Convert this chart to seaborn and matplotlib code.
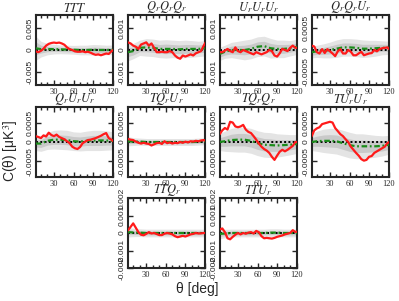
import numpy as np
import pandas as pd
import matplotlib
matplotlib.use("Agg")
import matplotlib.pyplot as plt
import seaborn as sns
from matplotlib.ticker import MultipleLocator, FixedLocator

# angular grid of the data points (deg)
theta = [2, 6, 10, 14, 18, 22, 26, 30, 34, 38, 42, 46, 50, 54, 58, 62,
         66, 70, 74, 78, 82, 86, 90, 94, 98, 102, 106, 110, 114, 118, 121]
# coarser grid for the simulation mean and its 1/2 sigma bands
theta_sim = [2, 10, 20, 30, 40, 50, 60, 70, 80, 90, 100, 110, 121]

# all values in units of 1e-4 uK^3
# --- TTT
red_ttt = [-3, -5, -2, 3, 10, 14, 16, 17, 16, 17, 15, 12, 6, 2, 0, -3, -4, -4, -3, -5,
           -4, -6, -9, -11, -10, -12, -10, -8, -9, -3, 0]
sim_ttt = [4, 2, 2, 2, 1.5, 1, 0.5, 0, 0, 0.5, 0, 0, 0.5]
s2_ttt = [28, 18, 13, 11, 10, 10, 10, 11, 11, 12, 12, 11, 11]
s1_ttt = [15, 9, 6, 5, 5, 5, 5, 5, 5, 6, 6, 5, 5]
# --- QrQrQr
red_qqq = [3.5, 3, 2, 1.5, 0.5, 2.5, 3, 3.5, 2, 3, 1, -1, -1, -0.8, -1, -1, -0.5, -1,
           -2.5, -3.5, -4, -2.5, -3, -2.5, -2, -2.5, -1.5, -1, -0.5, 2, 3.5]
sim_qqq = [-1, -0.5, 1, 1.2, 1, 0.5, 0.5, 0.5, 0.3, 0.5, 0.5, 0.5, 0.8]
s2_qqq = [4, 3.5, 3.5, 4, 4, 4, 4.2, 4, 4, 4, 3.8, 3.5, 3.5]
s1_qqq = [2, 1.8, 1.8, 2, 2, 2, 2.2, 2, 2, 2, 2, 1.8, 1.8]
# --- UrUrUr
red_uuu = [-1, -1, -0.3, 0.5, -0.5, -1, 1.2, -0.5, -1, 0, -0.5, -1, -1.5, -2, -1,
           -1.5, -2, -1.5, -1, 0, -0.5, -2.5, -3, -1.5, 0.5, 0, -0.5, 1, 2, 1, 1]
sim_uuu = [-1.8, -0.8, 0, 0, 0, 0.5, 1.5, 1.8, 0.8, 0.5, 0.5, 0.8, 1.5]
s2_uuu = [3, 3, 3.5, 4, 4.5, 4.5, 4.5, 4.5, 4.5, 4, 4, 3.5, 3.5]
s1_uuu = [1.5, 1.5, 1.8, 2, 2.2, 2.2, 2.2, 2.2, 2.2, 2, 2, 1.8, 1.8]
# --- QrQrUr
red_qqu = [1, 0.8, -0.5, -0.8, 0.2, -0.7, 0.2, -0.3, -0.8, -1.4, -0.3, 0.2, -0.8,
           -0.8, 0, -0.4, -1.2, -1.2, -0.8, -0.4, -1.2, -1, -0.8, -0.7, 0, -0.3, 0.2,
           0.4, 0.5, 0.6, 0.2]
sim_qqu = [-0.5, -0.3, -0.2, 0, 0.3, 0.6, 0.6, 0.5, 0.3, 0.3, 0.4, 0.5, 0.5]
s2_qqu = [1.3, 1.4, 1.6, 1.8, 2, 2, 2, 2, 2, 1.9, 1.8, 1.6, 1.5]
s1_qqu = [0.7, 0.7, 0.8, 0.9, 1, 1, 1, 1, 1, 1, 0.9, 0.8, 0.8]
# --- QrUrUr
red_quu = [1.5, 1.3, 1.0, 1.7, 1.4, 2.4, 1.8, 1.5, 1.9, 1.3, 1.0, 0.7, 0.2, -0.3,
           -1.2, -1.6, -1.8, -1.3, -0.3, 0.1, 0.5, 0.6, 0.8, 1.0, 1.3, 1.6, 2.0, 2.3,
           1.0, 0.6, 0.2]
sim_quu = [-0.4, -0.4, 0.3, 0.6, 0.6, 0.5, 0.2, 0.1, 0.3, 0.4, 0.4, 0.4, 0.3]
s2_quu = [1.8, 2, 2.2, 2.4, 2.5, 2.5, 2.4, 2.4, 2.5, 2.6, 2.6, 2.5, 2.3]
s1_quu = [0.9, 1, 1.1, 1.2, 1.2, 1.2, 1.2, 1.2, 1.2, 1.3, 1.3, 1.2, 1.1]
# --- TQrUr
red_tqu = [0.8, 0.6, 0.5, 0.1, -0.2, -0.4, -0.2, -0.4, -0.5, -0.9, -0.6, -0.3, -0.2,
           -0.5, 0.2, -0.3, -0.1, -0.4, -0.2, -0.3, 0, -0.2, 0.1, -0.1, 0.2, 0.1, 0.3,
           0.2, 0.4, 0.5, 0.3]
sim_tqu = [0.2, 0.1, 0.1, 0, 0, 0, 0, 0, 0, 0, 0, 0.1, 0.2]
s2_tqu = [1.2, 1, 0.9, 0.9, 0.9, 0.9, 0.9, 0.9, 0.9, 0.9, 0.9, 0.9, 0.9]
s1_tqu = [0.6, 0.5, 0.45, 0.45, 0.45, 0.45, 0.45, 0.45, 0.45, 0.45, 0.45, 0.45, 0.45]
# --- TQrQr
red_tqq = [2.0, 3.0, 3.6, 3.2, 5.2, 5.0, 4.0, 3.8, 4.0, 4.4, 3.2, 2.6, 2.3, 1.5, 0.6,
           -0.4, -1.2, -1.8, -2.2, -2.8, -3.8, -4.6, -3.5, -2.5, -2.0, -2.4, -2.0,
           -1.5, -1.0, 0, 0]
sim_tqq = [0, 0.2, 0.5, 0.6, 0.6, 0.3, -0.3, -0.7, -0.8, -0.9, -0.8, -0.7, -0.5]
s2_tqq = [2.2, 2.6, 3, 3.2, 3.2, 3.2, 3.2, 3.2, 3.2, 3.0, 2.8, 2.6, 2.4]
s1_tqq = [1.1, 1.3, 1.5, 1.6, 1.6, 1.6, 1.6, 1.6, 1.6, 1.5, 1.4, 1.3, 1.2]
# --- TUrUr
red_tuu = [1.5, 3.0, 3.5, 3.8, 4.6, 4.8, 5.0, 5.2, 5.0, 3.6, 2.8, 2.0, 1.5, 0.7, 0,
           -1.2, -2.0, -2.8, -3.5, -4.4, -4.8, -4.6, -3.8, -3.6, -2.8, -2.4, -2.0,
           -1.6, -1.2, -0.3, 0]
sim_tuu = [0, 0.2, 0.3, 0.3, 0.2, -0.3, -0.8, -1.1, -1.1, -1.1, -1.1, -1.0, -0.7]
s2_tuu = [2.2, 2.6, 3, 3.2, 3.3, 3.3, 3.3, 3.2, 3.2, 3.0, 2.8, 2.6, 2.4]
s1_tuu = [1.1, 1.3, 1.5, 1.6, 1.6, 1.6, 1.6, 1.6, 1.6, 1.5, 1.4, 1.3, 1.2]
# --- TTQr
red_ttq = [1.5, 3.5, 5.5, 3.0, 0.5, -1.0, -1.3, -0.5, 0.5, -0.3, 0, -0.6, -1.2, -1.2,
           -0.4, 0, -0.3, -0.8, -1.8, -2.4, -2.0, -1.6, -2.0, -1.4, -0.8, -0.5, 0,
           -0.3, -0.2, 0, 0]
sim_ttq = [0.5, 0.3, 0.2, 0, 0, 0, 0, 0, 0, 0, 0, 0, 0]
s2_ttq = [2.8, 2.4, 2.2, 2.2, 2.2, 2.2, 2.2, 2.2, 2.2, 2.2, 2.2, 2.2, 2.2]
s1_ttq = [1.4, 1.2, 1.1, 1.1, 1.1, 1.1, 1.1, 1.1, 1.1, 1.1, 1.1, 1.1, 1.1]
# --- TTUr
red_ttu = [2.0, 2.6, 0.5, -3.0, -3.6, -2.2, -1.0, 0, -0.8, 0, -0.4, 0.2, 0.5, -0.3,
           1.2, 0.5, -1.8, -3.0, -2.8, -3.0, -3.2, -2.8, -2.2, -1.8, -1.4, -0.8,
           -0.4, 0, 1.6, 0.6, 0.8]
sim_ttu = [-0.5, -0.3, 0, 0, 0, 0, 0, 0, 0.2, 0.2, 0, 0, 0]
s2_ttu = [2.8, 2.4, 2.2, 2.2, 2.2, 2.2, 2.2, 2.2, 2.2, 2.2, 2.2, 2.2, 2.2]
s1_ttu = [1.4, 1.2, 1.1, 1.1, 1.1, 1.1, 1.1, 1.1, 1.1, 1.1, 1.1, 1.1, 1.1]

titles = [r"$TTT$", r"$Q_rQ_rQ_r$", r"$U_rU_rU_r$", r"$Q_rQ_rU_r$",
          r"$Q_rU_rU_r$", r"$TQ_rU_r$", r"$TQ_rQ_r$", r"$TU_rU_r$",
          r"$TTQ_r$", r"$TTU_r$"]
ylims = [0.008, 0.0016, 0.0016, 0.0008, 0.0009, 0.0009, 0.0009, 0.0009, 0.002, 0.002]
yticks_list = [["-0.005", "0", "0.005"], ["-0.001", "0", "0.001"],
               ["-0.001", "0", "0.001"], ["-0.0005", "0", "0.0005"],
               ["-0.0005", "0", "0.0005"], ["-0.0005", "0", "0.0005"],
               ["-0.0005", "0", "0.0005"], ["-0.0005", "0", "0.0005"],
               ["-0.002", "-0.001", "0", "0.001", "0.002"],
               ["-0.002", "-0.001", "0", "0.001", "0.002"]]

reds = [red_ttt, red_qqq, red_uuu, red_qqu, red_quu, red_tqu, red_tqq, red_tuu, red_ttq, red_ttu]
sims = [sim_ttt, sim_qqq, sim_uuu, sim_qqu, sim_quu, sim_tqu, sim_tqq, sim_tuu, sim_ttq, sim_ttu]
s2s = [s2_ttt, s2_qqq, s2_uuu, s2_qqu, s2_quu, s2_tqu, s2_tqq, s2_tuu, s2_ttq, s2_ttu]
s1s = [s1_ttt, s1_qqq, s1_uuu, s1_qqu, s1_quu, s1_tqu, s1_tqq, s1_tuu, s1_ttq, s1_ttu]

sns.set_style("ticks")
plt.rcParams["mathtext.fontset"] = "stix"
plt.rcParams["font.family"] = ["Liberation Sans", "DejaVu Sans"]

W, H = 399, 301
fig = plt.figure(figsize=(W / 100, H / 100), dpi=100)

col_x = [36, 128.3, 220, 312]
row_top = [15, 107, 198]
aw, ah = 77, 70
slots = [(0, 0), (0, 1), (0, 2), (0, 3), (1, 0), (1, 1), (1, 2), (1, 3), (2, 1), (2, 2)]

for i, (r, c) in enumerate(slots):
    ax = fig.add_axes([col_x[c] / W, 1 - (row_top[r] + ah) / H, aw / W, ah / H])
    sc = 1e-4
    sim = np.array(sims[i]) * sc
    s2 = np.array(s2s[i]) * sc
    s1 = np.array(s1s[i]) * sc
    ax.fill_between(theta_sim, sim - s2, sim + s2, color="#e4e4e4", lw=0, zorder=1)
    ax.fill_between(theta_sim, sim - s1, sim + s1, color="#c9c9c9", lw=0, zorder=1)
    ax.axhline(0, color="black", ls=(0, (1, 1.2)), lw=1.4, zorder=2)
    sns.lineplot(x=theta_sim, y=sim, color="#1a8c1a", lw=1.6,
                 linestyle=(0, (2.5, 1.2, 0.8, 1.2)), ax=ax, zorder=3)
    sns.lineplot(x=theta, y=np.array(reds[i]) * sc, color="#ff1a1a", lw=1.6, ax=ax, zorder=4)

    ax.set_xlim(2.5, 120.5)
    ax.set_ylim(-ylims[i], ylims[i])
    ax.xaxis.set_major_locator(FixedLocator([30, 60, 90, 120]))
    ax.xaxis.set_minor_locator(MultipleLocator(10))
    labs = yticks_list[i]
    ax.yaxis.set_major_locator(FixedLocator([float(v) for v in labs]))
    ax.set_yticklabels(labs)
    ax.set_xticklabels(["30", "60", "90", "120"], family="Liberation Serif")
    ax.tick_params(which="both", direction="in", top=True, right=True, width=1)
    ax.tick_params(which="major", length=3.5, labelsize=6, pad=2)
    ax.tick_params(which="minor", length=2)
    ax.tick_params(axis="y", labelrotation=90)
    for t in ax.get_yticklabels():
        t.set_va("center")
    for s in ax.spines.values():
        s.set_linewidth(1.5)
    ax.set_xlabel("")
    ax.set_ylabel("")
    ax.set_title(titles[i], fontsize=9, pad=1.5)

fig.text(0.026, 0.5, "C(θ) [μK$^3$]", rotation=90, ha="center", va="center", fontsize=10)
fig.text(0.494, 0.04, "θ [deg]", ha="center", va="center", fontsize=10)

fig.savefig("out.png", dpi=100)
